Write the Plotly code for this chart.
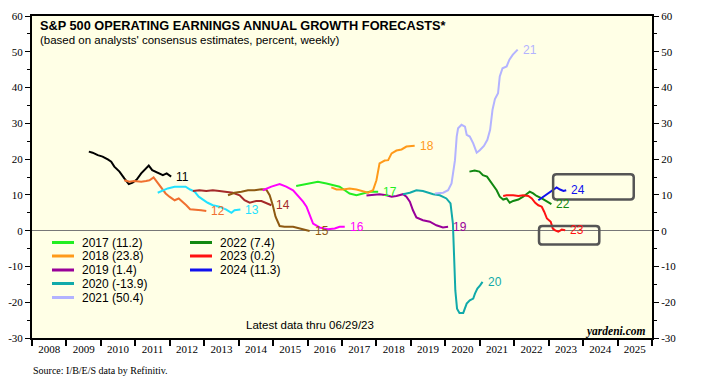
import plotly.graph_objects as go

# ---------------- data (decimal year, % growth forecast) ----------------
t_2011 = [2009.65, 2009.76, 2009.91, 2010.05, 2010.20, 2010.30, 2010.39, 2010.54, 2010.68, 2010.81, 2010.92,
          2011.04, 2011.17, 2011.29, 2011.39, 2011.49, 2011.58, 2011.68, 2011.80, 2011.91, 2012.04]
v_2011 = [22.1, 21.8, 21.1, 20.7, 19.9, 19.3, 17.9, 16.5, 14.6, 13.0, 13.4,
          14.3, 16.0, 17.1, 18.2, 16.9, 16.5, 16.0, 15.5, 16.0, 15.1]

t_2012 = [2010.68, 2010.83, 2010.97, 2011.17, 2011.31, 2011.41, 2011.53, 2011.62, 2011.75, 2011.88, 2011.99,
          2012.14, 2012.26, 2012.38, 2012.48, 2012.59, 2012.77, 2012.91, 2013.06]
v_2012 = [14.1, 13.7, 13.9, 13.7, 13.9, 14.1, 14.9, 13.7, 11.8, 10.4, 9.5,
          8.5, 9.0, 8.1, 7.1, 6.0, 5.9, 5.7, 5.5]

t_2013 = [2011.65, 2011.80, 2011.94, 2012.14, 2012.28, 2012.46, 2012.59, 2012.72, 2012.84, 2012.98, 2013.10,
          2013.25, 2013.44, 2013.64, 2013.79, 2013.88, 2014.05]
v_2013 = [10.6, 11.3, 11.8, 12.3, 12.3, 12.3, 11.5, 10.9, 9.5, 8.5, 7.8,
          7.1, 6.7, 5.9, 5.0, 5.7, 5.9]

t_2014 = [2012.67, 2012.86, 2013.06, 2013.25, 2013.44, 2013.64, 2013.83, 2014.03, 2014.17, 2014.32, 2014.51,
          2014.66, 2014.80, 2014.95]
v_2014 = [11.1, 11.3, 11.1, 11.3, 11.1, 10.9, 10.6, 9.9, 8.5, 7.8, 8.3, 8.3, 7.8, 7.1]

t_2015 = [2013.69, 2013.88, 2014.08, 2014.27, 2014.46, 2014.66, 2014.80, 2014.90, 2014.99, 2015.07, 2015.19,
          2015.33, 2015.58, 2015.77, 2015.97, 2016.06]
v_2015 = [9.9, 10.6, 10.9, 11.3, 11.3, 11.6, 11.5, 9.9, 7.1, 3.9, 1.3, 1.1, 1.1, 0.6, 0.1, -0.1]

t_2016 = [2014.70, 2014.95, 2015.19, 2015.38, 2015.58, 2015.72, 2015.87, 2015.97, 2016.06, 2016.16, 2016.35,
          2016.59, 2016.79, 2016.93, 2017.08]
v_2016 = [11.3, 12.3, 13.0, 12.3, 11.3, 9.9, 8.1, 6.7, 4.3, 2.0, 0.9, 0.4, 0.6, 1.1, 1.1]

t_2017 = [2015.67, 2015.97, 2016.30, 2016.55, 2016.74, 2016.93, 2017.08, 2017.22, 2017.42, 2017.61, 2017.80, 2018.05]
v_2017 = [12.5, 13.0, 13.7, 13.2, 12.7, 12.3, 11.3, 10.4, 9.9, 10.4, 10.9, 10.9]

t_2018 = [2016.69, 2016.84, 2017.03, 2017.22, 2017.42, 2017.61, 2017.76, 2017.90, 2018.00, 2018.09, 2018.24,
          2018.34, 2018.44, 2018.58, 2018.73, 2018.87, 2019.02, 2019.11]
v_2018 = [12.1, 11.5, 11.5, 11.8, 11.5, 11.1, 10.6, 11.3, 14.1, 18.8, 19.6,
          19.7, 21.6, 22.4, 22.7, 23.5, 23.7, 23.7]

t_2019 = [2017.71, 2017.90, 2018.09, 2018.29, 2018.44, 2018.58, 2018.77, 2018.87, 2018.97, 2019.06, 2019.16,
          2019.35, 2019.55, 2019.74, 2019.93, 2020.08]
v_2019 = [9.8, 9.9, 10.2, 9.9, 9.5, 9.7, 10.2, 9.5, 8.1, 5.7, 3.7, 2.9, 2.5, 1.5, 0.9, 1.1]

t_2020 = [2018.77, 2018.97, 2019.16, 2019.35, 2019.65, 2019.84, 2020.03, 2020.15, 2020.22, 2020.25, 2020.29,
          2020.34, 2020.41, 2020.52, 2020.62, 2020.71, 2020.81, 2020.86, 2020.93, 2021.01, 2021.08]
v_2020 = [10.2, 10.6, 11.3, 11.1, 10.2, 9.9, 9.0, 7.6, 2.0, -7.3, -16.7,
          -21.8, -23.0, -23.0, -20.4, -19.5, -19.0, -17.6, -16.2, -15.3, -14.3]

t_2021 = [2019.70, 2019.94, 2020.08, 2020.18, 2020.28, 2020.33, 2020.37, 2020.47, 2020.57, 2020.62, 2020.71,
          2020.81, 2020.91, 2021.00, 2021.12, 2021.22, 2021.30, 2021.37, 2021.44, 2021.53, 2021.58, 2021.66,
          2021.78, 2021.86, 2021.96, 2022.07, 2022.10]
v_2021 = [10.4, 10.6, 11.3, 13.2, 19.7, 26.3, 28.6, 29.6, 29.1, 26.8, 26.3,
          24.4, 21.8, 22.5, 23.7, 25.4, 28.2, 33.8, 36.8, 38.4, 43.1, 45.4,
          45.9, 47.8, 49.2, 50.1, 50.6]

t_2022 = [2020.70, 2020.85, 2020.99, 2021.09, 2021.21, 2021.31, 2021.39, 2021.49, 2021.58, 2021.68, 2021.78,
          2021.87, 2021.97, 2022.12, 2022.26, 2022.36, 2022.45, 2022.55, 2022.65, 2022.80, 2022.94, 2023.08]
v_2022 = [16.5, 16.8, 16.5, 15.5, 15.1, 13.7, 12.7, 11.3, 9.5, 8.7, 9.0,
          7.8, 8.3, 8.7, 9.5, 10.2, 10.9, 10.4, 9.7, 9.0, 8.1, 7.4]

t_2023 = [2021.68, 2021.78, 2021.97, 2022.12, 2022.26, 2022.41, 2022.51, 2022.61, 2022.70, 2022.80, 2022.87,
          2022.95, 2023.06, 2023.12, 2023.19, 2023.28, 2023.38, 2023.48]
v_2023 = [9.7, 9.9, 9.9, 9.7, 9.9, 9.7, 9.0, 7.8, 7.1, 6.7, 5.3, 3.4, 2.5, 0.6, 0.1, -0.3, 0.3, 0.1]

t_2024 = [2022.70, 2022.84, 2022.99, 2023.12, 2023.23, 2023.33, 2023.43, 2023.51]
v_2024 = [8.5, 9.5, 10.4, 11.5, 12.1, 11.5, 11.1, 11.3]

series_names = ["11", "12", "13", "14", "15", "16", "17", "18", "19", "20", "21", "22", "23", "24"]
series_t = [t_2011, t_2012, t_2013, t_2014, t_2015, t_2016, t_2017, t_2018, t_2019, t_2020, t_2021,
            t_2022, t_2023, t_2024]
series_v = [v_2011, v_2012, v_2013, v_2014, v_2015, v_2016, v_2017, v_2018, v_2019, v_2020, v_2021,
            v_2022, v_2023, v_2024]

legend_col1 = ["2017 (11.2)", "2018 (23.8)", "2019 (1.4)", "2020 (-13.9)", "2021 (50.4)"]
legend_col2 = ["2022 (7.4)", "2023 (0.2)", "2024 (11.3)"]

year_labels = [str(y) for y in range(2008, 2026)]
y_tick_values = [-30, -20, -10, 0, 10, 20, 30, 40, 50, 60]
y_tick_labels = ["-30", "-20", "-10", "0", "10", "20", "30", "40", "50", "60"]

# ---------------- styles ----------------
colors = {
    "11": "#000000", "12": "#F07030", "13": "#22E2FF", "14": "#A52A2A", "15": "#8E5A12",
    "16": "#FF00FF", "17": "#22EE22", "18": "#FF9A1A", "19": "#990099", "20": "#11AAAA",
    "21": "#B3B3FF", "22": "#118811", "23": "#FF1111", "24": "#1111EE",
}
SANS = "Liberation Sans, Arial, sans-serif"
SERIF = "Liberation Serif, Times New Roman, serif"

# the page body has an 8px margin; the figure is sized to fill the rest of the window
OFF = 8
FW, FH = 711 - OFF, 384 - OFF
# plot-area edges in window pixels
L, R, T, B = 32, 652, 16, 338
W, H = R - L, B - T

def px(x):
    return (x - L) / W

def py(y):
    return (B - y) / H

fig = go.Figure()
for name, t, v in zip(series_names, series_t, series_v):
    fig.add_trace(go.Scatter(x=t, y=v, mode="lines", line=dict(color=colors[name], width=2),
                             showlegend=False, hoverinfo="skip"))
    fig.add_annotation(x=t[-1], y=v[-1], text=name, showarrow=False, xanchor="left", yanchor="middle",
                       xshift=3, font=dict(family=SANS, size=12, color=colors[name]))

# invisible trace for right axis
fig.add_trace(go.Scatter(x=[None], y=[None], yaxis="y2", showlegend=False))

# manual legend (paper coordinates)
rows_y = [242.5, 256, 270, 283.5, 297.5]
for labels, (lx0, lx1, tx) in [(legend_col1, (52, 74, 80)), (legend_col2, (190, 212, 218))]:
    for i, lab in enumerate(labels):
        key = lab[2:4]
        fig.add_shape(type="line", xref="paper", yref="paper", x0=px(lx0), x1=px(lx1),
                      y0=py(rows_y[i]), y1=py(rows_y[i]), line=dict(color=colors[key], width=3))
        fig.add_annotation(xref="paper", yref="paper", x=px(tx), y=py(rows_y[i]), text=lab,
                           showarrow=False, xanchor="left", yanchor="middle",
                           font=dict(family=SANS, size=12, color="#000000"))

# rounded boxes (data coordinates)
def rounded(x0, x1, y0, y1, rx=0.1, ry=0.9):
    return (f"M {x0+rx},{y1} L {x1-rx},{y1} Q {x1},{y1} {x1},{y1-ry} L {x1},{y0+ry} "
            f"Q {x1},{y0} {x1-rx},{y0} L {x0+rx},{y0} Q {x0},{y0} {x0},{y0+ry} "
            f"L {x0},{y1-ry} Q {x0},{y1} {x0+rx},{y1} Z")

fig.add_shape(type="path", path=rounded(2023.13, 2025.47, 8.7, 15.8), line=dict(color="#555555", width=2.5))
fig.add_shape(type="path", path=rounded(2022.72, 2024.47, -3.9, 1.3), line=dict(color="#555555", width=2.5))

# texts
fig.add_annotation(xref="paper", yref="paper", x=px(38), y=py(25.5), xanchor="left", yanchor="middle",
                   text="<b>S&P 500 OPERATING EARNINGS ANNUAL GROWTH FORECASTS*</b>", showarrow=False,
                   font=dict(family=SANS, size=12.75, color="#000000"))
fig.add_annotation(xref="paper", yref="paper", x=px(38), y=py(39.5), xanchor="left", yanchor="middle",
                   text="(based on analysts' consensus estimates, percent, weekly)", showarrow=False,
                   font=dict(family=SANS, size=11.5, color="#000000"))
fig.add_annotation(xref="paper", yref="paper", x=px(310), y=py(325), xanchor="center", yanchor="middle",
                   text="Latest data thru 06/29/23", showarrow=False,
                   font=dict(family=SANS, size=11.5, color="#000000"))
fig.add_annotation(xref="paper", yref="paper", x=px(648), y=py(331), xanchor="right", yanchor="middle",
                   text="<b><i>yardeni.com</i></b>", showarrow=False,
                   font=dict(family=SERIF, size=11.5, color="#000000"))
fig.add_annotation(xref="paper", yref="paper", x=px(31), y=py(370), xanchor="left", yanchor="middle",
                   text="Source: I/B/E/S data by Refinitiv.", showarrow=False,
                   font=dict(family=SERIF, size=10, color="#000000"))

yaxis_common = dict(range=[-30, 60], tickmode="array", tickvals=y_tick_values, ticktext=y_tick_labels,
                    ticks="outside", ticklen=5, tickwidth=1,
                    tickcolor="#000000", showgrid=False, showline=True, linecolor="#000000", linewidth=2,
                    tickfont=dict(family=SERIF, size=11, color="#000000"),
                    minor=dict(dtick=5, tick0=0, ticks="outside", ticklen=3, tickcolor="#000000"))

fig.update_layout(
    width=FW, height=FH,
    margin=dict(l=L - OFF, r=711 - R, t=T - OFF, b=384 - B, pad=0, autoexpand=False),
    paper_bgcolor="#FFFFFF", plot_bgcolor="#FFFFE6",
    xaxis=dict(range=[2008, 2026], tickvals=[y + 0.5 for y in range(2008, 2026)], ticktext=year_labels,
               ticks="outside", ticklen=0, showgrid=False, zeroline=False,
               showline=True, linecolor="#000000", linewidth=2, mirror=True,
               tickfont=dict(family=SERIF, size=11, color="#000000"),
               minor=dict(tick0=2008, dtick=1, ticks="outside", ticklen=6, tickwidth=2, tickcolor="#000000")),
    yaxis=dict(**yaxis_common, zeroline=True, zerolinecolor="#777777", zerolinewidth=1),
    yaxis2=dict(**yaxis_common, overlaying="y", side="right", zeroline=False),
    showlegend=False,
)

fig.write_html("out.html")
